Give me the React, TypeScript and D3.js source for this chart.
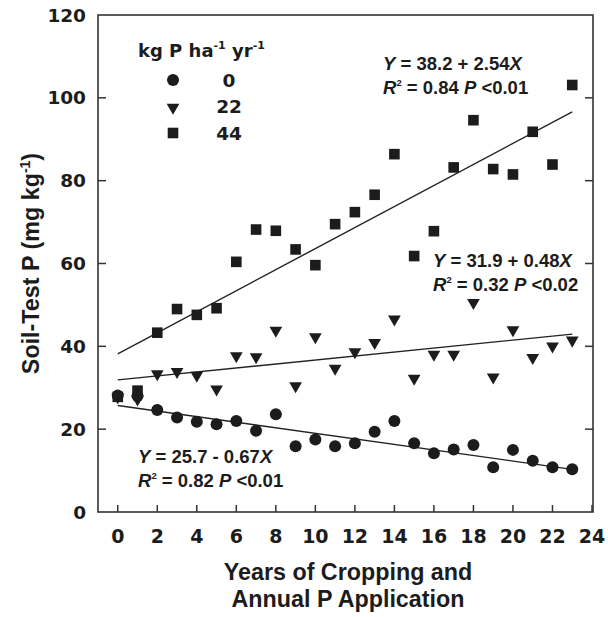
import React from "react";
import * as d3 from "d3";

const years = d3.range(0, 24);
const p0 = [28.1, 28.0, 24.6, 22.8, 21.8, 21.2, 22.0, 19.6, 23.6, 15.9, 17.5, 15.9, 16.6, 19.4, 22.0, 16.6, 14.2, 15.1, 16.2, 10.8, 15.0, 12.4, 10.8, 10.3];
const p22 = [28.0, 27.5, 33.6, 34.1, 33.2, 29.9, 37.9, 37.7, 44.1, 30.7, 42.5, 34.9, 38.9, 41.1, 46.8, 32.5, 38.3, 38.3, 50.8, 32.8, 44.2, 37.5, 40.3, 41.7];
const p44 = [27.8, 29.3, 43.3, 49.0, 47.6, 49.2, 60.4, 68.2, 67.9, 63.4, 59.6, 69.5, 72.4, 76.6, 86.4, 61.8, 67.8, 83.2, 94.6, 82.8, 81.5, 91.8, 83.9, 103.1];
const intercepts = [25.7, 31.9, 38.2];
const slopes = [-0.67, 0.48, 2.54];
const xTicks = d3.range(0, 25, 2);
const yTicks = d3.range(0, 121, 20);
const legendLabels = ["0", "22", "44"];

const W = 608, H = 617;
const L = 98, R = 593, T = 15, B = 512;
const FONT = "'Liberation Sans', Arial, Helvetica, sans-serif";
const WIDE = "'DejaVu Sans', 'Liberation Sans', sans-serif";
const INK = "#1c1c1c";

const x = d3.scaleLinear().domain([-1, 24]).range([L, R - 1]);
const y = d3.scaleLinear().domain([0, 120]).range([B, T]);

function Marker({ kind, cx, cy, s = 1 }: { kind: number; cx: number; cy: number; s?: number }) {
  if (kind === 0) return <circle cx={cx} cy={cy} r={6 * s} fill={INK} />;
  if (kind === 1) {
    const tri = d3.symbol().type(d3.symbolTriangle).size(70 * s * s)();
    return <path d={tri || ""} transform={`translate(${cx},${cy + 1}) rotate(180)`} fill={INK} />;
  }
  const h = 5.3 * s;
  return <rect x={cx - h} y={cy - h} width={2 * h} height={2 * h} fill={INK} />;
}

function Eq({ x0, y0, a, b, r2, p }: { x0: number; y0: number; a: number; b: number; r2: string; p: string }) {
  const sign = b < 0 ? "-" : "+";
  return (
    <g fontFamily={FONT} fontWeight="bold" fontSize={18.5} fill={INK}>
      <text x={x0} y={y0}>
        <tspan fontStyle="italic">Y</tspan>
        <tspan>{` = ${a.toFixed(1)} ${sign} ${Math.abs(b).toFixed(2)}`}</tspan>
        <tspan fontStyle="italic">X</tspan>
      </text>
      <text x={x0} y={y0 + 23.5}>
        <tspan fontStyle="italic">R</tspan>
        <tspan fontSize={9.5} dy={-7.5}>2</tspan>
        <tspan dy={7.5}>{` = ${r2} `}</tspan>
        <tspan fontStyle="italic">P</tspan>
        <tspan>{` <${p}`}</tspan>
      </text>
    </g>
  );
}

export default function App() {
  const series = [p0, p22, p44];
  const line = d3.line<number[]>().x((d) => x(d[0])).y((d) => y(d[1]));
  return (
    <svg width={W} height={H} style={{ position: "absolute", left: 0, top: 0, background: "#fff" }}>
      {/* frame */}
      <rect x={L} y={T} width={R - L} height={B - T} fill="none" stroke="#333" strokeWidth={1.6} />
      {/* ticks */}
      {xTicks.map((t) => (
        <line key={"xt" + t} x1={x(t)} x2={x(t)} y1={B} y2={B - 7} stroke="#333" strokeWidth={1.5} />
      ))}
      {yTicks.slice(1, -1).map((t) => (
        <g key={"yt" + t}>
          <line x1={L} x2={L + 8} y1={y(t)} y2={y(t)} stroke="#333" strokeWidth={1.5} />
          <line x1={R} x2={R - 8} y1={y(t)} y2={y(t)} stroke="#333" strokeWidth={1.5} />
        </g>
      ))}
      {/* tick labels */}
      <g fontFamily={WIDE} fontWeight="bold" fill={INK}>
        {xTicks.map((t) => (
          <text key={"xl" + t} x={x(t)} y={543} fontSize={19} textAnchor="middle">{t}</text>
        ))}
        {yTicks.map((t) => (
          <text key={"yl" + t} x={86} y={y(t)} dy="0.36em" fontSize={18.5} textAnchor="end">{t}</text>
        ))}
      </g>
      {/* axis titles */}
      <g fontFamily={FONT} fontWeight="bold" fontSize={23.3} fill={INK} textAnchor="middle">
        <text x={348} y={580}>Years of Cropping and</text>
        <text x={348} y={607}>Annual P Application</text>
        <text transform={`translate(39,${(T + B) / 2}) rotate(-90)`}>
          <tspan>Soil-Test P (mg kg</tspan>
          <tspan fontSize={14} dy={-9}>-1</tspan>
          <tspan dy={9}>)</tspan>
        </text>
      </g>
      {/* regression lines */}
      {intercepts.map((a, i) => (
        <path
          key={"rl" + i}
          d={line([[0, a], [23, a + slopes[i] * 23]]) || ""}
          stroke="#222"
          strokeWidth={1.4}
          fill="none"
        />
      ))}
      {/* points */}
      {series.map((s, k) =>
        s.map((v, i) => <Marker key={`m${k}-${i}`} kind={k} cx={x(years[i])} cy={y(v)} />)
      )}
      {/* legend */}
      <g fontFamily={WIDE} fontWeight="bold" fill={INK}>
        <text x={138} y={57} fontSize={18}>
          <tspan>kg P ha</tspan>
          <tspan fontSize={11} dy={-8}>-1</tspan>
          <tspan dy={8}> yr</tspan>
          <tspan fontSize={11} dy={-8}>-1</tspan>
        </text>
        {legendLabels.map((lab, i) => (
          <g key={"lg" + i}>
            <Marker kind={i} cx={173} cy={80 + i * 26.5} s={1} />
            <text x={229} y={87 + i * 26.3} fontSize={18.5} textAnchor="middle">{lab}</text>
          </g>
        ))}
      </g>
      {/* equations */}
      <Eq x0={383} y0={70} a={intercepts[2]} b={slopes[2]} r2="0.84" p="0.01" />
      <Eq x0={433} y0={267} a={intercepts[1]} b={slopes[1]} r2="0.32" p="0.02" />
      <Eq x0={138} y0={463} a={intercepts[0]} b={slopes[0]} r2="0.82" p="0.01" />
    </svg>
  );
}
